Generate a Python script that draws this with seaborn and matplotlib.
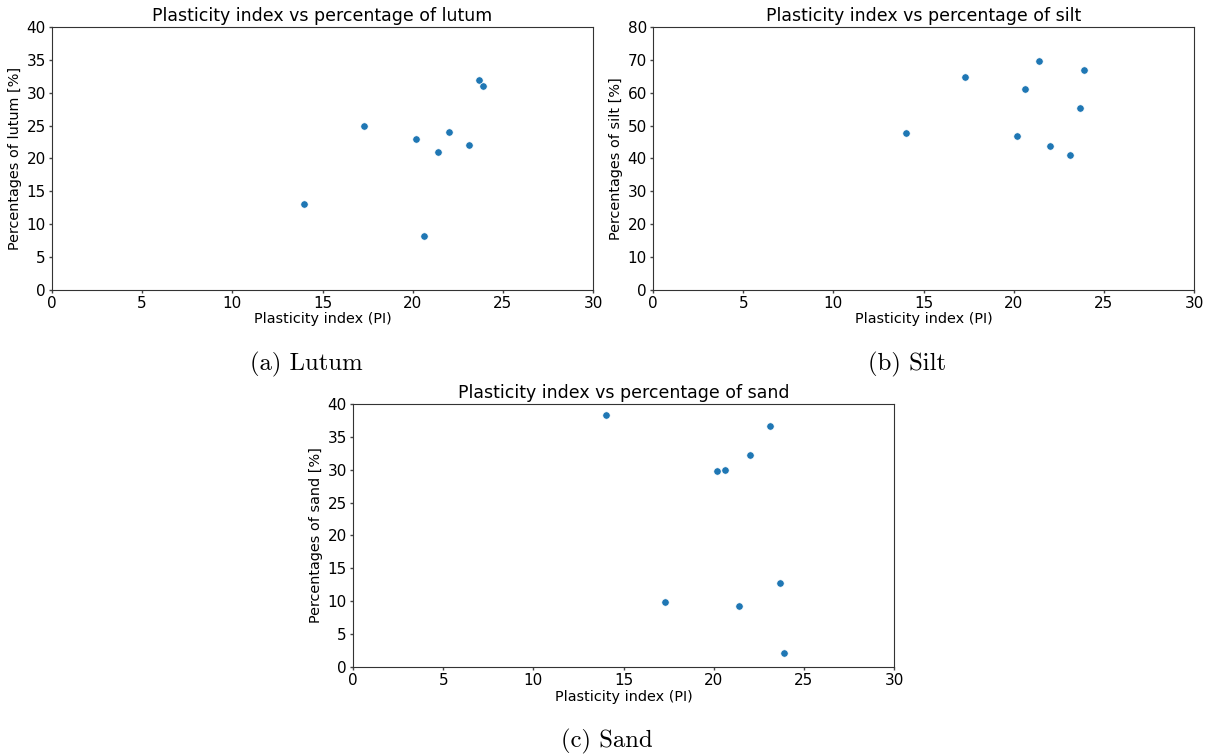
import matplotlib
matplotlib.use("Agg")
import matplotlib.pyplot as plt
import seaborn as sns
import pandas as pd

# ===============================
# data
# ===============================
pi = [14.0, 17.3, 20.2, 20.6, 21.4, 22.0, 23.1, 23.7, 23.9]
lutum = [13.0, 25.0, 23.0, 8.2, 21.0, 24.0, 22.0, 32.0, 31.0]
silt = [47.7, 64.9, 46.9, 61.0, 69.7, 43.8, 40.9, 55.3, 66.9]
sand = [38.3, 9.9, 29.8, 29.9, 9.3, 32.2, 36.7, 12.7, 2.1]

df = pd.DataFrame({"pi": pi, "lutum": lutum, "silt": silt, "sand": sand})

panels = [
    ("lutum", 40, "(a) Lutum", [0.0429, 0.6163, 0.4464, 0.3479]),
    ("silt", 80, "(b) Silt", [0.5388, 0.6163, 0.4464, 0.3479]),
    ("sand", 40, "(c) Sand", [0.2913, 0.1166, 0.4464, 0.3483]),
]

fig = plt.figure(figsize=(12.12, 7.55), dpi=100)

for col, ymax, caption, rect in panels:
    ax = fig.add_axes(rect)
    sns.scatterplot(data=df, x="pi", y=col, s=28, color="#1f77b4", ax=ax)
    ax.set_xlim(0, 30)
    ax.set_ylim(0, ymax)
    ax.tick_params(labelsize=11, length=2.5, width=1, pad=2, color="#444444")
    for sp in ax.spines.values():
        sp.set_color("#333333")
    ax.set_title(f"Plasticity index vs percentage of {col}", fontsize=12.5, pad=4)
    ax.set_xlabel("Plasticity index (PI)", fontsize=10.4, labelpad=1)
    ax.set_ylabel(f"Percentages of {col} [%]", fontsize=10.4, labelpad=3)
    # sub caption below the panel
    cx = rect[0] + rect[2] / 2 - 0.0135
    cy = rect[1] - 0.099
    fig.text(cx, cy, caption, ha="center", va="center",
             fontsize=17.8, family="cmr10")

plt.savefig("out.png", dpi=100)
